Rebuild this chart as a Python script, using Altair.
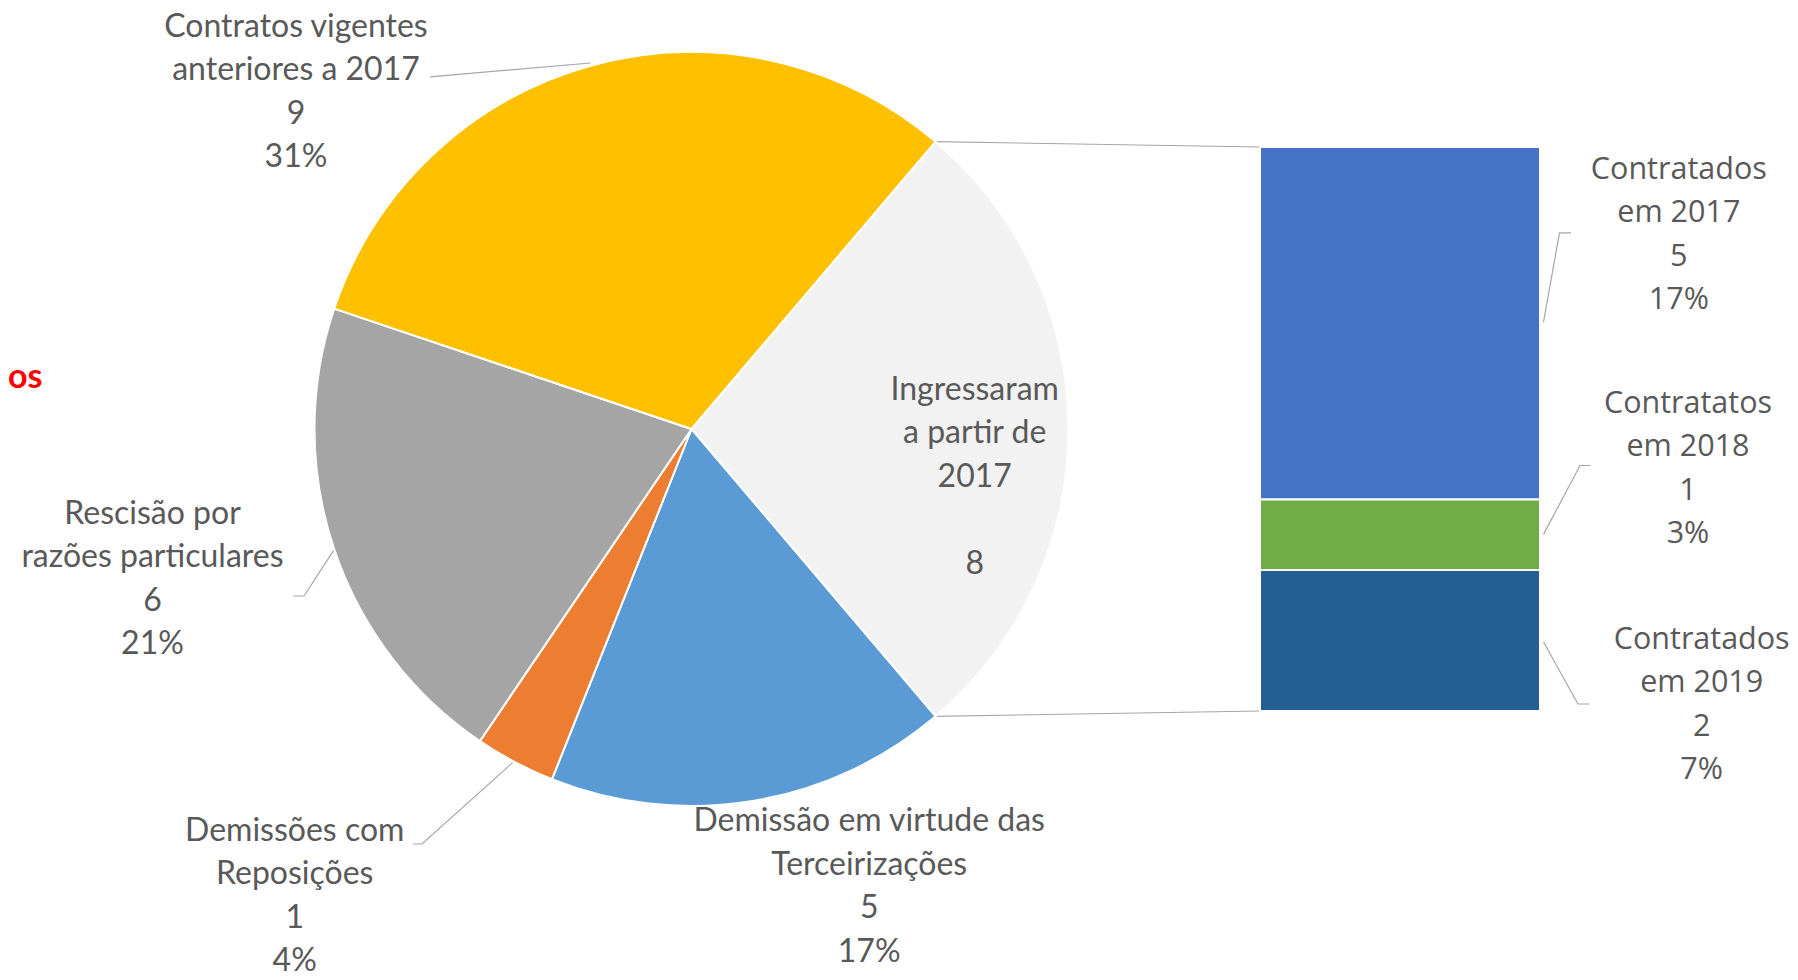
import math
import altair as alt
import pandas as pd

# ---------------- data ----------------
pie_labels = ["Ingressaram a partir de 2017", "Demissão em virtude das Terceirizações",
              "Demissões com Reposições", "Rescisão por razões particulares",
              "Contratos vigentes anteriores a 2017"]
pie_values = [8, 5, 1, 6, 9]
pie_pcts = ["", "17%", "4%", "21%", "31%"]
pie_colors = ["#F2F2F2", "#5B9BD5", "#ED7D31", "#A5A5A5", "#FFC000"]
pie_label_lines = [["Ingressaram", "a partir de", "2017", ""],
                   ["Demissão em virtude das", "Terceirizações"],
                   ["Demissões com", "Reposições"],
                   ["Rescisão por", "razões particulares"],
                   ["Contratos vigentes", "anteriores a 2017"]]

bar_labels = ["Contratados em 2017", "Contratatos em 2018", "Contratados em 2019"]
bar_values = [5, 1, 2]
bar_pcts = ["17%", "3%", "7%"]
bar_colors = ["#4472C4", "#70AD47", "#255E91"]
bar_label_lines = [["Contratados", "em 2017"], ["Contratatos", "em 2018"], ["Contratados", "em 2019"]]

# ---------------- layout (pixels in chart coordinates) ----------------
W, H = 1782, 964
CX, CY, R = 683.5, 421.0, 377.0
BX0, BX1, BTOP, BBOT = 1252.0, 1532.0, 139.0, 703.0
LH = 43.5
TXT = "#595959"
LINE = "#A6A6A6"

total = sum(pie_values)
share0 = pie_values[0] / total
theta0 = math.pi / 2 - math.pi * share0  # first slice centred on the right

pie_label_pos = [(966.7, 381.9), (861.2, 813.0), (286.7, 822.5), (144.5, 505.7), (288.0, 18.5)]
bar_label_pos = [(1670.8, 161.7), (1680.0, 395.6), (1693.7, 631.9)]

pie_leaders = [None, None,
               [(404.8, 836.0), (414.0, 836.0), (504.6, 754.6)],
               [(285.5, 588.0), (296.0, 588.0), (325.7, 542.4)],
               [(422.0, 68.8), (582.5, 55.0)]]
bar_leaders = [[(1535.5, 314.2), (1551.5, 224.8), (1563.0, 224.8)],
               [(1535.5, 526.4), (1572.0, 457.5), (1582.5, 457.5)],
               [(1535.5, 634.0), (1570.0, 696.0), (1581.0, 696.0)]]

# ---------------- tables ----------------
pie_df = pd.DataFrame({"label": pie_labels, "value": pie_values, "ord": list(range(len(pie_values)))})
bar_df = pd.DataFrame({"cat": bar_labels, "val": bar_values, "ord": [2, 1, 0]})

pie_text_rows = []
for i, lines in enumerate(pie_label_lines):
    full = lines + [str(pie_values[i])] + ([pie_pcts[i]] if pie_pcts[i] else [])
    x, y0 = pie_label_pos[i]
    for k, t in enumerate(full):
        pie_text_rows.append({"x": x, "y": y0 + k * LH, "t": t})
pie_text_df = pd.DataFrame(pie_text_rows)

bar_text_rows = []
for i, lines in enumerate(bar_label_lines):
    full = lines + [str(bar_values[i]), bar_pcts[i]]
    x, y0 = bar_label_pos[i]
    for k, t in enumerate(full):
        bar_text_rows.append({"x": x, "y": y0 + k * LH, "t": t})
bar_text_df = pd.DataFrame(bar_text_rows)

line_rows = []
lid = 0
for pts in pie_leaders + bar_leaders:
    if pts is None:
        continue
    for k, (x, y) in enumerate(pts):
        line_rows.append({"id": lid, "o": k, "x": x, "y": y})
    lid += 1
# connectors from the first slice edges to the bar corners
a1 = theta0
a2 = theta0 + 2 * math.pi * share0
for (ang, by) in [(a1, BTOP), (a2, BBOT)]:
    line_rows.append({"id": lid, "o": 0, "x": CX + R * math.sin(ang), "y": CY - R * math.cos(ang)})
    line_rows.append({"id": lid, "o": 1, "x": BX0, "y": by})
    lid += 1
line_df = pd.DataFrame(line_rows)

# ---------------- marks ----------------
pie = alt.Chart(pie_df).mark_arc(radius=R, stroke="white", strokeWidth=2).encode(
    theta=alt.Theta("value:Q", stack=True,
                    scale=alt.Scale(range=[theta0, theta0 + 2 * math.pi])),
    color=alt.Color("label:N", scale=alt.Scale(domain=pie_labels, range=pie_colors), legend=None),
    order=alt.Order("ord:Q"),
    x=alt.value(CX), y=alt.value(CY),
)

bar = alt.Chart(bar_df).transform_stack(
    stack="val", groupby=[], as_=["y0", "y1"], sort=[alt.SortField("ord", order="ascending")]
).mark_rect(stroke="white", strokeWidth=2).encode(
    y=alt.Y("y0:Q", scale=alt.Scale(domain=[0, sum(bar_values)], range=[BBOT, BTOP]), axis=None),
    y2="y1:Q",
    x=alt.value(BX0), x2=alt.value(BX1),
    color=alt.Color("cat:N", scale=alt.Scale(domain=bar_labels, range=bar_colors), legend=None),
)

lines = alt.Chart(line_df).mark_line(color=LINE, strokeWidth=1.2).encode(
    x=alt.X("x:Q", scale=None, axis=None),
    y=alt.Y("y:Q", scale=None, axis=None),
    detail="id:N", order="o:Q",
)

pie_txt = alt.Chart(pie_text_df).mark_text(font="Lato", fontSize=32, color=TXT,
                                           align="center", baseline="middle").encode(
    x=alt.X("x:Q", scale=None, axis=None), y=alt.Y("y:Q", scale=None, axis=None), text="t:N")

bar_txt = alt.Chart(bar_text_df).mark_text(font="Open Sans", fontSize=30.5, color=TXT,
                                           align="center", baseline="middle").encode(
    x=alt.X("x:Q", scale=None, axis=None), y=alt.Y("y:Q", scale=None, axis=None), text="t:N")

red = alt.Chart(pd.DataFrame({"x": [0.0], "y": [370.0], "t": ["os"]})).mark_text(
    font="Lato", fontSize=34, fontWeight="bold", color="#FF0000", align="left", baseline="middle").encode(
    x=alt.X("x:Q", scale=None, axis=None), y=alt.Y("y:Q", scale=None, axis=None), text="t:N")

chart = alt.layer(lines, pie, bar, pie_txt, bar_txt, red).resolve_scale(
    x="independent", y="independent", color="independent", theta="independent"
).properties(width=W, height=H, padding=0, autosize=alt.AutoSizeParams(type="none"),
             background="white").configure_view(stroke=None)

chart.save("out.html", embed_options={"renderer": "svg", "actions": False})
